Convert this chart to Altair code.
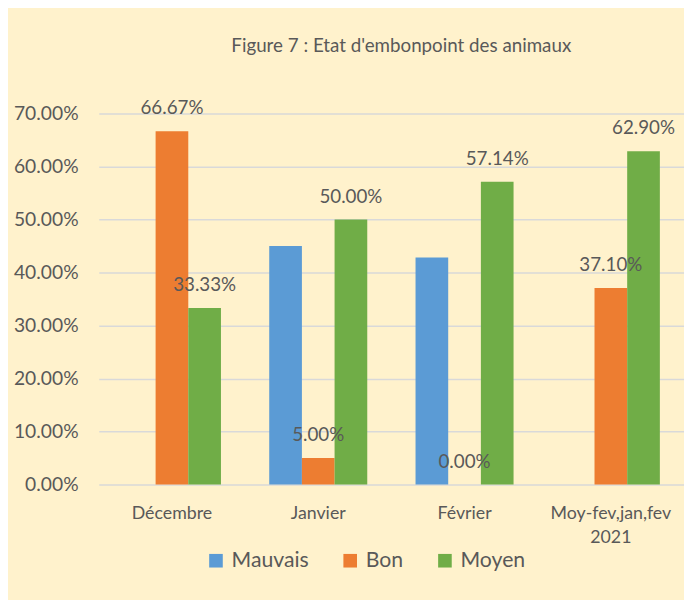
import altair as alt
import pandas as pd

categories = ["Décembre", "Janvier", "Février", "Moy-fev,jan,fev\n2021"]
series = ["Mauvais", "Bon", "Moyen"]
colors = ["#5B9BD5", "#ED7D31", "#70AD47"]
mauvais = [0.00, 45.00, 42.86, 0.00]
bon = [66.67, 5.00, 0.00, 37.10]
moyen = [33.33, 50.00, 57.14, 62.90]
labelled = ["Bon", "Moyen"]
y_ticks = [0.0, 0.1, 0.2, 0.3, 0.4, 0.5, 0.6, 0.7]

rows = []
for name, vals in zip(series, [mauvais, bon, moyen]):
    for c, v in zip(categories, vals):
        rows.append({"cat": c, "serie": name, "value": v / 100.0})
df = pd.DataFrame(rows)

FONT = "Lato"
TXT = "#595959"

x = alt.X("cat:N", sort=categories, title=None,
          scale=alt.Scale(paddingInner=0.33, paddingOuter=0.165),
          axis=alt.Axis(labelAngle=0, labelFontSize=18, labelColor=TXT, labelFont=FONT,
                        labelPadding=20, domain=False, ticks=False,
                        labelExpr="split(datum.label, '\\n')", labelLineHeight=25))
y = alt.Y("value:Q", title=None,
          scale=alt.Scale(domain=[0, 0.7], nice=False),
          axis=alt.Axis(format=".2%", values=y_ticks, labelFontSize=19.5, labelColor=TXT,
                        labelFont=FONT, labelPadding=21, domain=False, ticks=False,
                        gridColor="#D9D9D9", gridWidth=1.5))
xo = alt.XOffset("serie:N", sort=series, scale=alt.Scale(domain=series))

bars = alt.Chart(df).mark_bar().encode(
    x=x, y=y, xOffset=xo,
    color=alt.Color("serie:N", sort=series,
                    scale=alt.Scale(domain=series, range=colors),
                    legend=alt.Legend(title=None, orient="none", direction="horizontal",
                                      legendX=108, legendY=442,
                                      symbolType="square", symbolSize=190,
                                      symbolStrokeWidth=0, labelFontSize=21.5,
                                      labelFont=FONT, labelColor=TXT,
                                      columnPadding=31, labelOffset=5)),
)

labels = alt.Chart(df).transform_filter(
    alt.FieldOneOfPredicate(field="serie", oneOf=labelled)
).mark_text(font=FONT, fontSize=19, color=TXT, baseline="alphabetic", dy=-17).encode(
    x=x, y=y, xOffset=xo,
    text=alt.Text("value:Q", format=".2%"),
)

chart = alt.layer(bars, labels).properties(
    width=593, height=376,
    padding={"left": 5, "top": 25, "right": 0, "bottom": 28},
    background="#FFF2CC",
    title=alt.TitleParams("Figure 7 : Etat d'embonpoint des animaux", font=FONT,
                          fontSize=19, fontWeight="normal", color=TXT, offset=44, dx=10),
).configure_view(stroke=None)

chart.save("out.html", embed_options={"renderer": "svg", "actions": False})
